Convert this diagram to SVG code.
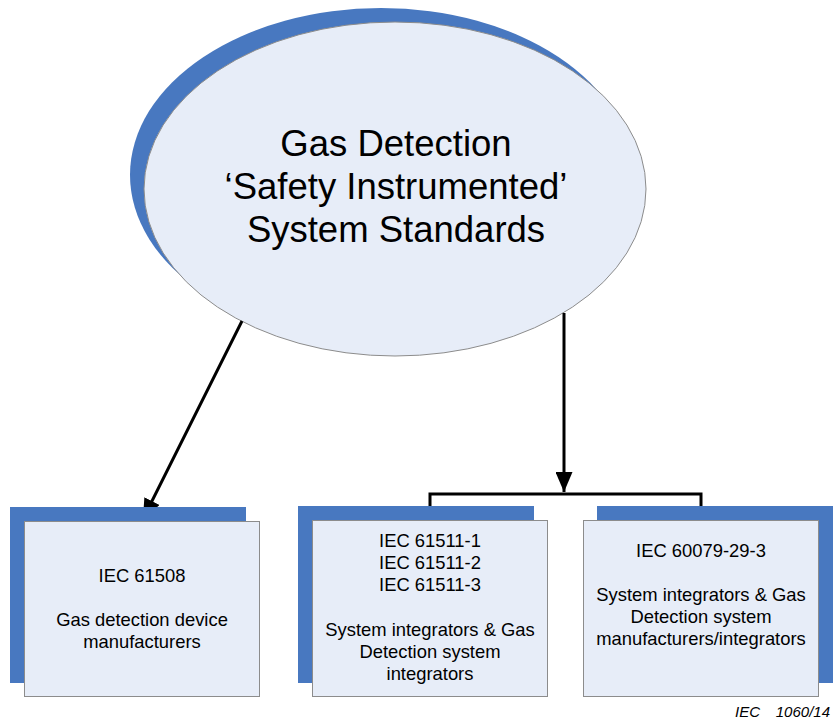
<svg xmlns="http://www.w3.org/2000/svg" width="834" height="722" viewBox="0 0 834 722">
<defs>
<style>
.shadow{fill:#4878c0;}
.front{fill:#e7edf8;stroke:#8c8c8c;stroke-width:1;}
.title{font-family:"Liberation Sans",Arial,sans-serif;font-size:36.5px;fill:#000;text-anchor:middle;}
.lbl{font-family:"Liberation Sans",Arial,sans-serif;font-size:18.4px;fill:#000;text-anchor:middle;}
.foot{font-family:"Liberation Sans",Arial,sans-serif;font-size:15px;font-style:italic;fill:#000;}
.conn{fill:none;stroke:#000;stroke-width:3;}
</style>
<marker id="arr" markerUnits="userSpaceOnUse" markerWidth="21" markerHeight="17" refX="20" refY="8.5" orient="auto">
<path d="M0,0 L20,8.5 L0,17 z" fill="#000"/>
</marker>
</defs>
<rect width="834" height="722" fill="#fff"/>
<g id="root">
<ellipse class="shadow" cx="381" cy="175" rx="251" ry="167"/>
<ellipse class="front" cx="395" cy="189" rx="251" ry="167"/>
<text class="title" x="396" y="156">Gas Detection</text>
<text class="title" x="396" y="199">‘Safety Instrumented’</text>
<text class="title" x="396" y="242">System Standards</text>
</g>
<g id="connectors">
<line class="conn" x1="242" y1="321" x2="143" y2="519" marker-end="url(#arr)"/>
<line class="conn" x1="564" y1="313" x2="564" y2="492" marker-end="url(#arr)"/>
<path class="conn" d="M430,507 V494 H701 V507"/>
</g>
<g id="box1">
<rect class="shadow" x="10" y="507" width="236" height="176"/>
<rect class="front" x="24.5" y="521.5" width="235" height="175"/>
<text class="lbl" x="142" y="582">IEC 61508</text>
<text class="lbl" x="142" y="626">Gas detection device</text>
<text class="lbl" x="142" y="648">manufacturers</text>
</g>
<g id="box2">
<rect class="shadow" x="298" y="506" width="236" height="177"/>
<rect class="front" x="312.5" y="520.5" width="235" height="176"/>
<text class="lbl" x="430" y="547">IEC 61511-1</text>
<text class="lbl" x="430" y="569">IEC 61511-2</text>
<text class="lbl" x="430" y="591">IEC 61511-3</text>
<text class="lbl" x="430" y="636">System integrators &amp; Gas</text>
<text class="lbl" x="430" y="658">Detection system</text>
<text class="lbl" x="430" y="680">integrators</text>
</g>
<g id="box3">
<rect class="shadow" x="597" y="506" width="236" height="177"/>
<rect class="front" x="583.5" y="520.5" width="235" height="176"/>
<text class="lbl" x="701" y="557">IEC 60079-29-3</text>
<text class="lbl" x="701" y="601">System integrators &amp; Gas</text>
<text class="lbl" x="701" y="623">Detection system</text>
<text class="lbl" x="701" y="645">manufacturers/integrators</text>
</g>
<text class="foot" y="717"><tspan x="735">IEC</tspan><tspan x="830" text-anchor="end">1060/14</tspan></text>
</svg>
